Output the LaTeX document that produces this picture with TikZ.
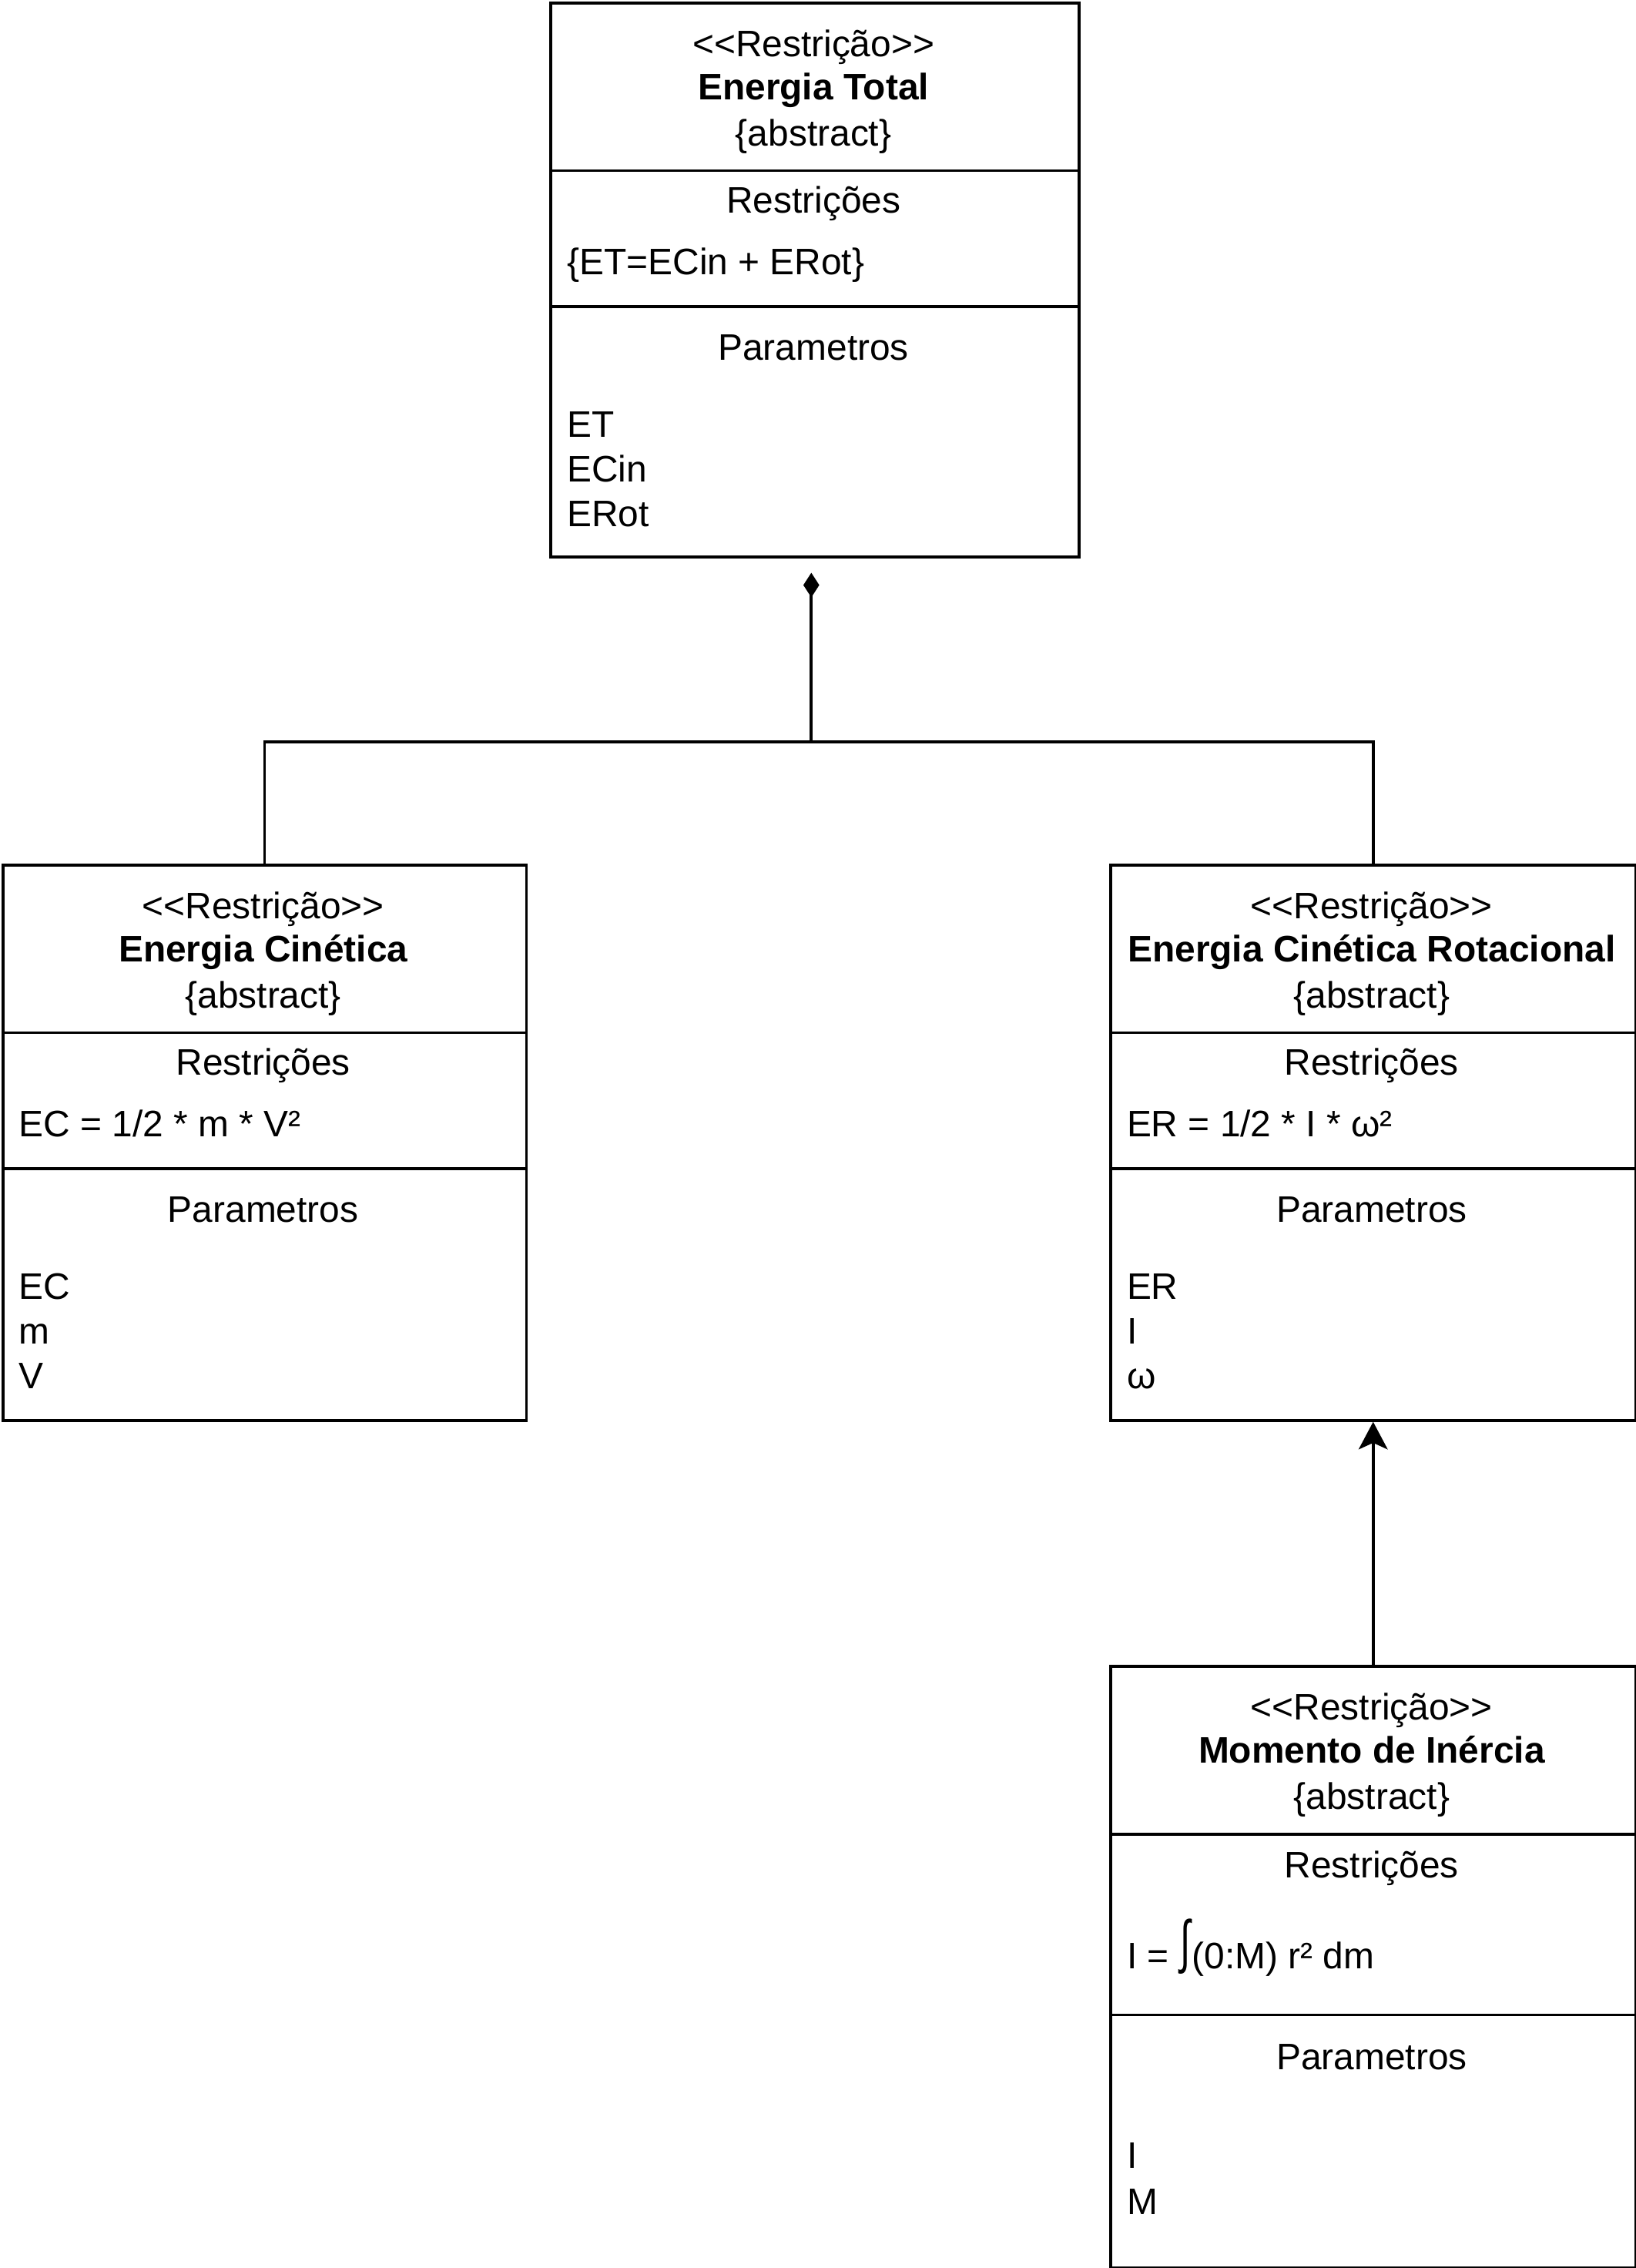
\documentclass[tikz,border=0pt]{standalone}
\usepackage{graphicx}
\usepackage{fontspec}
\setmainfont{Liberation Sans}
\usetikzlibrary{arrows.meta}

\newcommand{\stereo}[1]{<\kern0pt<#1>\kern0pt>}
\newcommand{\bigint}{\kern1pt\raisebox{4.5pt}{\scalebox{1}[1.58]{∫}}\kern1pt}

\tikzset{
  umlbox/.style={draw, line width=2pt, inner sep=0pt, anchor=north west},
  ctext/.style={anchor=base, inner sep=0pt, font=\fontsize{25.5}{30.5}\selectfont},
  ltext/.style={ctext, anchor=base west},
  sep/.style={line width=2pt},
  conn/.style={line width=2pt},
}

\begin{document}
\begin{tikzpicture}[x=1pt, y=-1pt]
\useasboundingbox (0,0) rectangle (1131,1568);

% Energia Total
\begin{scope}[shift={(380,1)}]
  \node[umlbox, minimum width=365pt, minimum height=383pt] (etotal) at (0,0) {};
  \draw[sep] (0,117) -- (365,117);
  \draw[sep] (0,211) -- (365,211);
  \node[ctext] (etotal-st) at (182.5,38) {\stereo{Restrição}};
  \node[ctext, font=\fontsize{25.5}{30.5}\selectfont\bfseries] (etotal-nm) at (182.5,68) {Energia Total};
  \node[ctext] (etotal-ab) at (182.5,100) {\{abstract\}};
  \node[ctext] (etotal-rs) at (182.5,146) {Restrições};
  \node[ltext] (etotal-eq) at (12,189) {\{ET=ECin + ERot\}};
  \node[ctext] (etotal-pm) at (182.5,248) {Parametros};
  \foreach \p [count=\i from 0] in {ET, ECin, ERot}
    \node[ltext] (etotal-p\i) at (12,{301+31*\i}) {\p};
\end{scope}

% Energia Cinetica
\begin{scope}[shift={(1,597)}]
  \node[umlbox, minimum width=362pt, minimum height=384pt] (ekin) at (0,0) {};
  \draw[sep] (0,117) -- (362,117);
  \draw[sep] (0,211) -- (362,211);
  \node[ctext] (ekin-st) at (181,38) {\stereo{Restrição}};
  \node[ctext, font=\fontsize{25.5}{30.5}\selectfont\bfseries] (ekin-nm) at (181,68) {Energia Cinética};
  \node[ctext] (ekin-ab) at (181,100) {\{abstract\}};
  \node[ctext] (ekin-rs) at (181,146) {Restrições};
  \node[ltext] (ekin-eq) at (12,189) {EC = 1/2 * m * V²};
  \node[ctext] (ekin-pm) at (181,248) {Parametros};
  \foreach \p [count=\i from 0] in {EC, m, V}
    \node[ltext] (ekin-p\i) at (12,{301+31*\i}) {\p};
\end{scope}

% Energia Cinetica Rotacional
\begin{scope}[shift={(767,597)}]
  \node[umlbox, minimum width=363pt, minimum height=384pt] (erot) at (0,0) {};
  \draw[sep] (0,117) -- (363,117);
  \draw[sep] (0,211) -- (363,211);
  \node[ctext] (erot-st) at (181.5,38) {\stereo{Restrição}};
  \node[ctext, font=\fontsize{25.5}{30.5}\selectfont\bfseries] (erot-nm) at (181.5,68) {Energia Cinética Rotacional};
  \node[ctext] (erot-ab) at (181.5,100) {\{abstract\}};
  \node[ctext] (erot-rs) at (181.5,146) {Restrições};
  \node[ltext] (erot-eq) at (12,189) {ER = 1/2 * I * ω²};
  \node[ctext] (erot-pm) at (181.5,248) {Parametros};
  \foreach \p [count=\i from 0] in {ER, I, ω}
    \node[ltext] (erot-p\i) at (12,{301+31*\i}) {\p};
\end{scope}

% Momento de Inercia
\begin{scope}[shift={(767,1151)}]
  \node[umlbox, minimum width=363pt, minimum height=416pt] (inertia) at (0,0) {};
  \draw[sep] (0,117) -- (363,117);
  \draw[sep] (0,242) -- (363,242);
  \node[ctext] (inertia-st) at (181.5,38) {\stereo{Restrição}};
  \node[ctext, font=\fontsize{25.5}{30.5}\selectfont\bfseries] (inertia-nm) at (181.5,68) {Momento de Inércia};
  \node[ctext] (inertia-ab) at (181.5,100) {\{abstract\}};
  \node[ctext] (inertia-rs) at (181.5,147) {Restrições};
  \node[ltext] (inertia-eq) at (12,210) {I = \bigint(0:M) r² dm};
  \node[ctext] (inertia-pm) at (181.5,280) {Parametros};
  \foreach \p [count=\i from 0] in {I, M}
    \node[ltext] (inertia-p\i) at (12,{348+32*\i}) {\p};
\end{scope}

% Composition
\coordinate (jct) at (561,513);
\draw[conn] (ekin.north) |- (jct) -| (erot.north);
\draw[conn, -{Diamond[length=17pt, width=11pt]}, shorten >=10pt] (jct) -- (jct |- etotal.south);

% Generalization
\draw[conn, -{Stealth[length=19pt, width=20pt, inset=4.5pt]}] (inertia.north) -- (erot.south);

\end{tikzpicture}
\end{document}
